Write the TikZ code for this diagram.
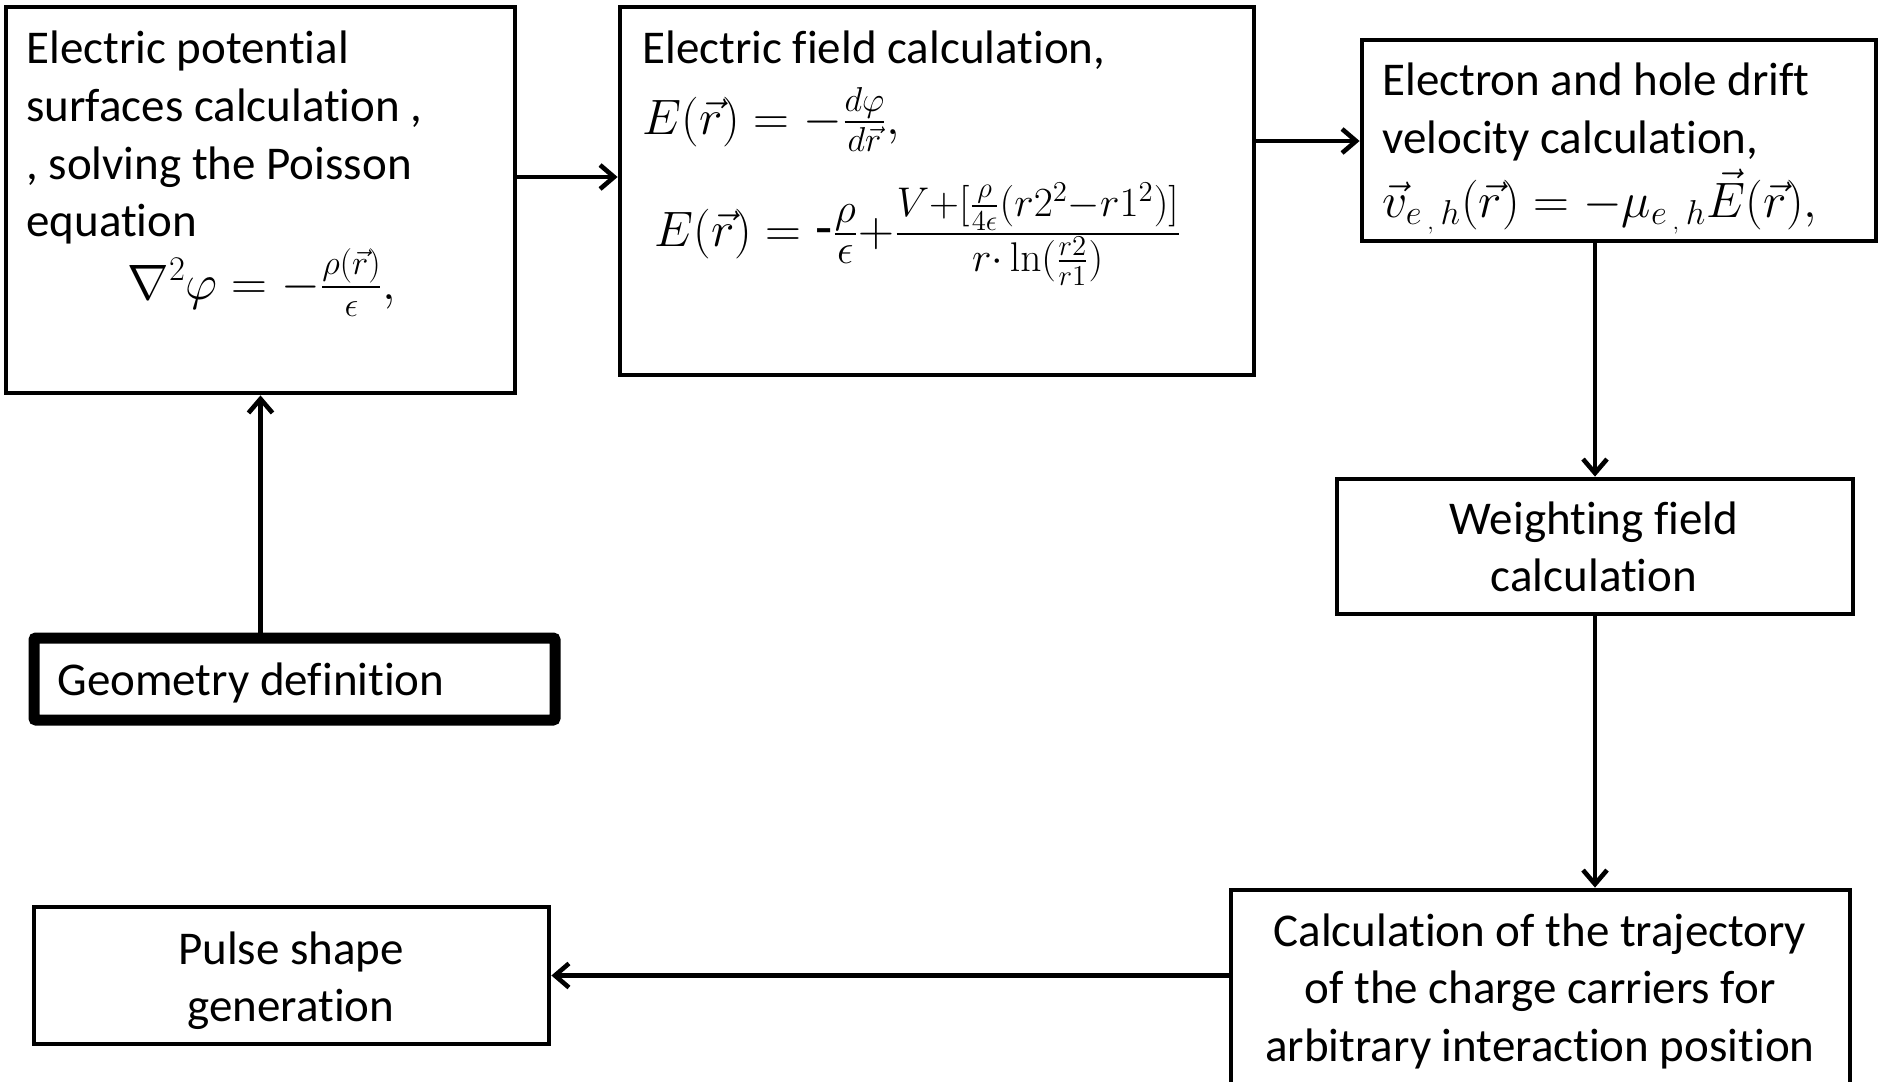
\documentclass[tikz,border=0pt]{standalone}
\usepackage{amsmath}
\usepackage[no-math]{fontspec}
\setmainfont[Ligatures=NoCommon]{Carlito}
\usetikzlibrary{arrows.meta}
\begin{document}
\begin{tikzpicture}[x=0.5pt,y=-0.5pt,
  box/.style={draw, line width=2.4pt, inner sep=0pt, rectangle},
  thickbox/.style={draw, line width=5.5pt, inner sep=0pt, rounded corners=1pt},
  txt/.style={inner sep=0pt, font=\fontsize{23.5}{28.75}\selectfont},
  mth/.style={inner sep=0pt, font=\fontsize{25}{30}\selectfont},
  conn/.style={line width=2.3pt, -{Straight Barb[length=7pt,width=12pt]}}]
\useasboundingbox (0,0) rectangle (1878,1081);
\fill[white] (0,0) rectangle (1878,1081);
% boxes
\node[box, minimum width=254.5pt, minimum height=193pt] (b1) at (260.5,200) {};
\node[box, minimum width=317pt, minimum height=184pt] (b2) at (937,191) {};
\node[box, minimum width=257pt, minimum height=100.5pt] (b3) at (1619,140.5) {};
\node[box, minimum width=258pt, minimum height=67.5pt] (b4) at (1595,546.5) {};
\node[box, minimum width=309.5pt, minimum height=105pt] (b5) at (1540.5,995) {};
\node[box, minimum width=257.5pt, minimum height=68.5pt] (b6) at (291.5,975.5) {};
\node[thickbox, minimum width=260.5pt, minimum height=41pt] (b7) at (294.5,679) {};
% box 1 text
\node[txt, anchor=base west] (t1a) at (26,64) {Electric potential};
\node[txt, anchor=base west] (t1b) at (26,121.5) {surfaces calculation ,};
\node[txt, anchor=base west] (t1c) at (26,179) {, solving the Poisson};
\node[txt, anchor=base west] (t1d) at (26,236.5) {equation};
\node[mth, anchor=base] (f1) at (262,299) {\(\nabla^2\varphi = -\frac{\rho(\vec r)}{\epsilon},\)};
% box 2 text
\node[txt, anchor=base west] (t2a) at (642,64) {Electric field calculation,};
\node[mth, anchor=base west, font=\fontsize{27}{30}\selectfont] (f2a) at (642,134) {\(E(\vec r) = -\frac{d\varphi}{d\vec r},\)};
\node[mth, anchor=base west, font=\fontsize{28}{32}\selectfont] (f2b) at (654,246) {\(E(\vec r) = \text{-}\frac{\rho}{\epsilon}{+}\frac{V{+}[\frac{\rho}{4\epsilon}(r2^2{-}r1^2)]}{r{\cdot}\ln(\frac{r2}{r1})}\)};
% box 3 text
\node[txt, anchor=base west] (t3a) at (1382,96) {Electron and hole drift};
\node[txt, anchor=base west] (t3b) at (1382,154) {velocity calculation,};
\node[mth, anchor=base west] (f3) at (1382,217) {\(\vec v_{e\,{}_{,}\,h}(\vec r) = -\mu_{e\,{}_{,}\,h}\vec E(\vec r),\)};
% box 4 text
\node[txt, anchor=base] (t4a) at (1594,534) {Weighting field};
\node[txt, anchor=base] (t4b) at (1594,591) {calculation};
% box 5 text
\node[txt, anchor=base] (t5a) at (1540,946) {Calculation of the trajectory};
\node[txt, anchor=base] (t5b) at (1540,1003) {of the charge carriers for};
\node[txt, anchor=base] (t5c) at (1540,1061) {arbitrary interaction position};
% box 6 text
\node[txt, anchor=base] (t6a) at (291,964) {Pulse shape};
\node[txt, anchor=base] (t6b) at (291,1021) {generation};
% box 7 text
\node[txt, anchor=base west] (t7) at (57,695) {Geometry definition};
% connectors
\coordinate (a12) at ([yshift=11.5pt]b1.east);
\draw[conn] (a12) -- (a12 -| b2.west);
\coordinate (a23) at ([yshift=25pt]b2.east);
\draw[conn] (a23) -- (a23 -| b3.west);
\draw[conn] (b3.south -| b4.north) -- (b4.north);
\draw[conn] (b4.south) -- (b4.south |- b5.north);
\draw[conn] (b5.west |- b6.east) -- (b6.east);
\draw[conn] (b7.north -| b1.south) -- (b1.south);
\end{tikzpicture}
\end{document}
